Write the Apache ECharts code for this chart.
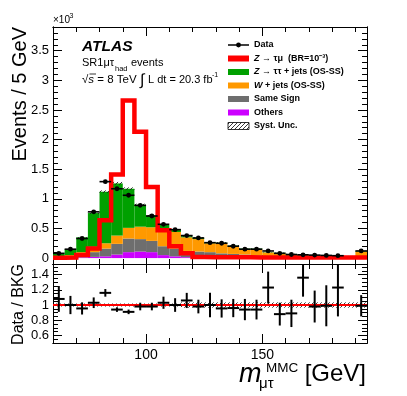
<!DOCTYPE html>
<html>
<head>
<meta charset="utf-8">
<script src="https://cdn.jsdelivr.net/npm/echarts@6/dist/echarts.min.js"></script>
<style>
  html, body { margin: 0; padding: 0; background: #fff; }
  #chart { width: 407px; height: 396px; }
</style>
</head>
<body>
<div id="chart"></div>
<script>
// bins of m_mutau^MMC [GeV], 5 GeV wide
const binWidth = 5;
const binLow = [60, 65, 70, 75, 80, 85, 90, 95, 100, 105, 110, 115, 120, 125, 130, 135, 140, 145, 150, 155, 160, 165, 170, 175, 180, 185, 190];

// events / 5 GeV, in units of 10^3
const dataVals = [0.08, 0.15, 0.33, 0.78, 1.29, 1.17, 1.06, 0.89, 0.71, 0.57, 0.48, 0.38, 0.34, 0.26, 0.25, 0.20, 0.15, 0.15, 0.12, 0.08, 0.06, 0.055, 0.05, 0.045, 0.04, null, 0.12];
const zttVals = [0.04, 0.10, 0.25, 0.57, 0.87, 0.88, 0.66, 0.37, 0.20, 0.08, 0.04, 0.02, 0.02, 0.01, 0.01, 0.01, 0.01, 0.01, 0.005, 0.005, 0.005, 0.005, 0.005, 0.005, 0.005, 0.005, 0.01];
const wjetsVals = [0.01, 0.02, 0.04, 0.09, 0.09, 0.14, 0.18, 0.21, 0.23, 0.28, 0.28, 0.23, 0.21, 0.15, 0.17, 0.13, 0.09, 0.105, 0.065, 0.06, 0.045, 0.025, 0.03, 0.028, 0.02, 0.02, 0.085];
const sameSignVals = [0.015, 0.022, 0.048, 0.08, 0.13, 0.18, 0.23, 0.21, 0.19, 0.15, 0.13, 0.105, 0.10, 0.09, 0.072, 0.063, 0.054, 0.04, 0.025, 0.021, 0.016, 0.012, 0.012, 0.009, 0.007, 0.007, 0.021];
const othersVals = [0.005, 0.008, 0.012, 0.02, 0.03, 0.06, 0.10, 0.11, 0.10, 0.05, 0.03, 0.015, 0.01, 0.01, 0.008, 0.007, 0.006, 0.005, 0.005, 0.004, 0.004, 0.003, 0.003, 0.003, 0.003, 0.003, 0.004];
const signalVals = [0.005, 0.01, 0.05, 0.16, 0.64, 1.41, 2.66, 2.13, 1.20, 0.47, 0.20, 0.08, 0.02, 0.015, 0.015, 0.012, 0.012, 0.01, 0.01, 0.01, 0.008, 0.008, 0.008, 0.008, 0.008, 0.008, 0.008];
const systRel = [0.02, 0.02, 0.02, 0.02, 0.02, 0.02, 0.02, 0.02, 0.02, 0.02, 0.02, 0.035, 0.035, 0.035, 0.035, 0.035, 0.035, 0.035, 0.035, 0.035, 0.035, 0.035, 0.035, 0.035, 0.035, 0.035, 0.035];

// Data / BKG
const ratioVals = [1.08, 1.0, 0.955, 1.03, 1.16, 0.94, 0.91, 0.98, 0.98, 1.03, 1.0, 1.06, 0.98, 1.0, 0.955, 0.96, 0.94, 0.94, 1.23, 0.88, 0.89, 1.36, 0.98, 0.99, 1.23, null, 0.99];
const ratioErr = [0.17, 0.12, 0.08, 0.07, 0.05, 0.03, 0.03, 0.05, 0.05, 0.08, 0.09, 0.1, 0.09, 0.16, 0.12, 0.12, 0.14, 0.13, 0.21, 0.15, 0.18, 0.25, 0.21, 0.27, 0.38, null, 0.14];

// tick labels
const mainYLabels = [0, 0.5, 1, 1.5, 2, 2.5, 3, 3.5];
const ratioYLabels = [0.6, 0.8, 1, 1.2, 1.4];
const xLabels = [100, 150];

const FONT = 'Liberation Sans, Arial, Helvetica, sans-serif';
const COLORS = { ztt: '#00a000', wjets: '#ff9900', same: '#6e6e6e', others: '#cc00ff', signal: '#ff0000' };

function hatch() {
  const c = document.createElement('canvas');
  c.width = 4; c.height = 4;
  const g = c.getContext('2d');
  g.strokeStyle = '#222';
  g.lineWidth = 0.9;
  g.beginPath();
  g.moveTo(0, 4); g.lineTo(4, 0);
  g.moveTo(-1, 1); g.lineTo(1, -1);
  g.moveTo(3, 5); g.lineTo(5, 3);
  g.stroke();
  return { image: c, repeat: 'repeat' };
}
const HATCH = hatch();

function steps(from, to, step, skip) {
  const out = [];
  for (let v = from; v <= to + 1e-9; v += step) {
    const r = Math.round(v * 1000) / 1000;
    if (!skip.some(s => Math.abs(s - r) < 1e-6)) out.push(r);
  }
  return out;
}

// four axes per direction: near major (labels), near minor, far major, far minor
function frame(dim, grid, min, max, major, minor, labels, fontSize) {
  const near = dim === 'x' ? 'bottom' : 'left';
  const far = dim === 'x' ? 'top' : 'right';
  const mk = (pos, ticks, len, withLabels) => ({
    type: 'value', gridIndex: grid, position: pos, min, max,
    splitLine: { show: false },
    axisLine: { show: true, onZero: false, lineStyle: { color: '#000', width: 1 } },
    axisTick: { show: true, inside: true, length: len, customValues: ticks, lineStyle: { color: '#000', width: 1 } },
    axisLabel: withLabels
      ? { show: true, customValues: labels, color: '#000', fontFamily: FONT, fontSize, margin: dim === 'x' ? 5 : 4, formatter: v => String(v) }
      : { show: false }
  });
  return [mk(near, major, 9, !!labels), mk(near, minor, 5, false), mk(far, major, 9, false), mk(far, minor, 5, false)];
}

const xMinor = steps(60, 190, 10, xLabels);
const mainYMinor = steps(0, 3.8, 0.1, mainYLabels);
const ratioYMinor = steps(0.55, 1.5, 0.05, ratioYLabels);

const xAxes = [
  ...frame('x', 0, 60, 195, xLabels, xMinor, null, 14),
  ...frame('x', 1, 60, 195, xLabels, xMinor, xLabels, 14)
];
const yAxes = [
  ...frame('y', 0, -0.1, 3.9, mainYLabels, mainYMinor, mainYLabels, 13),
  ...frame('y', 1, 0.5, 1.54, ratioYLabels, ratioYMinor, ratioYLabels, 13)
];

function binRect(fill) {
  return (params, api) => {
    const p0 = api.coord([api.value(0), api.value(3)]);
    const p1 = api.coord([api.value(1), api.value(2)]);
    return {
      type: 'rect',
      shape: { x: p0[0], y: p0[1], width: p1[0] - p0[0], height: p1[1] - p0[1] },
      style: { fill }
    };
  };
}

const series = [];

// stacked backgrounds
const layers = [
  { vals: othersVals, color: COLORS.others },
  { vals: sameSignVals, color: COLORS.same },
  { vals: wjetsVals, color: COLORS.wjets },
  { vals: zttVals, color: COLORS.ztt }
];
const cum = binLow.map(() => 0);
layers.forEach(l => {
  const data = binLow.map((lo, i) => {
    const b = cum[i];
    cum[i] += l.vals[i];
    return [lo, lo + binWidth, b, cum[i]];
  });
  series.push({ type: 'custom', xAxisIndex: 0, yAxisIndex: 0, data, clip: true, silent: true,
    encode: { x: [0, 1], y: [2, 3] }, renderItem: binRect(l.color) });
});

// syst band on top of stack
series.push({
  type: 'custom', xAxisIndex: 0, yAxisIndex: 0, clip: true, silent: true,
  encode: { x: [0, 1], y: [2, 3] },
  data: binLow.map((lo, i) => [lo, lo + binWidth, cum[i] * (1 - systRel[i]), cum[i] * (1 + systRel[i])]),
  renderItem: binRect(HATCH)
});

// signal
series.push({
  type: 'line', xAxisIndex: 0, yAxisIndex: 0, symbol: 'none', silent: true, z: 5,
  lineStyle: { color: COLORS.signal, width: 4.5, join: 'miter' },
  data: binLow.flatMap((lo, i) => [[lo, signalVals[i]], [lo + binWidth, signalVals[i]]])
});

// data points
series.push({
  type: 'custom', xAxisIndex: 0, yAxisIndex: 0, clip: true, silent: true, z: 6,
  encode: { x: [0, 1], y: 2 },
  data: binLow.map((lo, i) => [lo, lo + binWidth, dataVals[i]]).filter(d => d[2] !== null),
  renderItem: (params, api) => {
    const y = api.value(2);
    const a = api.coord([api.value(0), y]);
    const b = api.coord([api.value(1), y]);
    return {
      type: 'group', children: [
        { type: 'line', shape: { x1: a[0], y1: a[1], x2: b[0], y2: b[1] }, style: { stroke: '#000', lineWidth: 1.6 } },
        { type: 'circle', shape: { cx: (a[0] + b[0]) / 2, cy: a[1], r: 2.4 }, style: { fill: '#000' } }
      ]
    };
  }
});

// ratio syst band + line at 1
series.push({
  type: 'custom', xAxisIndex: 4, yAxisIndex: 4, clip: true, silent: true,
  encode: { x: [0, 1], y: [2, 3] },
  data: binLow.map((lo, i) => [lo, lo + binWidth, 1 - systRel[i], 1 + systRel[i]]),
  renderItem: binRect(HATCH),
  markLine: {
    silent: true, symbol: 'none', label: { show: false },
    lineStyle: { color: COLORS.signal, width: 2, type: 'solid' },
    data: [{ yAxis: 1 }]
  }
});

// ratio points
series.push({
  type: 'custom', xAxisIndex: 4, yAxisIndex: 4, clip: true, silent: true, z: 6,
  encode: { x: [0, 1], y: 2 },
  data: binLow.map((lo, i) => [lo, lo + binWidth, ratioVals[i], ratioErr[i]]).filter(d => d[2] !== null),
  renderItem: (params, api) => {
    const r = api.value(2), e = api.value(3);
    const xm = (api.value(0) + api.value(1)) / 2;
    const a = api.coord([api.value(0), r]);
    const b = api.coord([api.value(1), r]);
    const t = api.coord([xm, r + e]);
    const d = api.coord([xm, r - e]);
    return {
      type: 'group', children: [
        { type: 'line', shape: { x1: a[0], y1: a[1], x2: b[0], y2: b[1] }, style: { stroke: '#000', lineWidth: 2 } },
        { type: 'line', shape: { x1: t[0], y1: t[1], x2: d[0], y2: d[1] }, style: { stroke: '#000', lineWidth: 2 } }
      ]
    };
  }
});

// legend + labels
const legendRows = [
  { y: 45, kind: 'data', text: 'Data' },
  { y: 58.5, kind: COLORS.signal, text: '{i|Z} → τμ  (BR=10⁻³)' },
  { y: 72, kind: COLORS.ztt, text: '{i|Z} → ττ + jets (OS-SS)' },
  { y: 85.5, kind: COLORS.wjets, text: '{i|W} + jets (OS-SS)' },
  { y: 99, kind: COLORS.same, text: 'Same Sign' },
  { y: 112.5, kind: COLORS.others, text: 'Others' },
  { y: 126, kind: 'hatch', text: 'Syst. Unc.' }
];
const graphic = [];
legendRows.forEach(r => {
  if (r.kind === 'data') {
    graphic.push({ type: 'line', shape: { x1: 228, y1: r.y, x2: 249, y2: r.y }, style: { stroke: '#000', lineWidth: 1.5 } });
    graphic.push({ type: 'circle', shape: { cx: 238.5, cy: r.y, r: 2.4 }, style: { fill: '#000' } });
  } else if (r.kind === 'hatch') {
    graphic.push({ type: 'rect', shape: { x: 228, y: r.y - 3.5, width: 21, height: 7 }, style: { fill: HATCH, stroke: '#000', lineWidth: 0.8 } });
  } else {
    graphic.push({ type: 'rect', shape: { x: 228, y: r.y - 3, width: 21, height: 6 }, style: { fill: r.kind } });
  }
  graphic.push({ type: 'text', x: 254, y: r.y, style: {
    text: r.text, fill: '#000', fontFamily: FONT, fontSize: 9, fontWeight: 'bold', verticalAlign: 'middle',
    rich: { i: { fontFamily: FONT, fontSize: 9, fontWeight: 'bold', fontStyle: 'italic' } }
  } });
});

const txt = (x, y, text, size, extra) => ({ type: 'text', x, y, style: Object.assign({
  text, fill: '#000', fontFamily: FONT, fontSize: size, verticalAlign: 'middle' }, extra || {}) });

graphic.push(
  txt(53, 20.5, '×10', 10),
  txt(69.5, 16, '3', 7),
  txt(82, 47, 'ATLAS', 15.5, { fontWeight: 'bold', fontStyle: 'italic' }),
  txt(82, 63, 'SR1μτ', 11),
  txt(115, 68.5, 'had', 7.5),
  txt(131, 63, 'events', 11),
  txt(82, 80, '√{i|s} = 8 TeV', 11.5, { rich: { i: { fontFamily: FONT, fontSize: 11.5, fontStyle: 'italic' } } }),
  { type: 'line', shape: { x1: 89.5, y1: 74, x2: 96, y2: 74 }, style: { stroke: '#000', lineWidth: 0.8 } },
  txt(140, 81, '∫', 16),
  txt(148, 80, 'L dt = 20.3 fb', 11),
  txt(212, 75, '-1', 7),
  { type: 'text', x: 20, y: 27, rotation: Math.PI / 2, style: {
    text: 'Events / 5 GeV', fill: '#000', fontFamily: FONT, fontSize: 20, textAlign: 'right', verticalAlign: 'middle' } },
  { type: 'text', x: 19, y: 264, rotation: Math.PI / 2, style: {
    text: 'Data / BKG', fill: '#000', fontFamily: FONT, fontSize: 16, textAlign: 'right', verticalAlign: 'middle' } },
  txt(366, 374, '[GeV]', 24, { textAlign: 'right' }),
  txt(239, 374, 'm', 27, { fontStyle: 'italic' }),
  txt(266, 368, 'MMC', 13.5),
  txt(259, 384, 'μτ', 15)
);

const chart = echarts.init(document.getElementById('chart'));
chart.setOption({
  animation: false,
  backgroundColor: '#fff',
  textStyle: { fontFamily: FONT },
  grid: [
    { left: 53, right: 40, top: 27, height: 237 },
    { left: 53, right: 40, top: 264, height: 79 }
  ],
  xAxis: xAxes,
  yAxis: yAxes,
  series,
  graphic
});
</script>
</body>
</html>
